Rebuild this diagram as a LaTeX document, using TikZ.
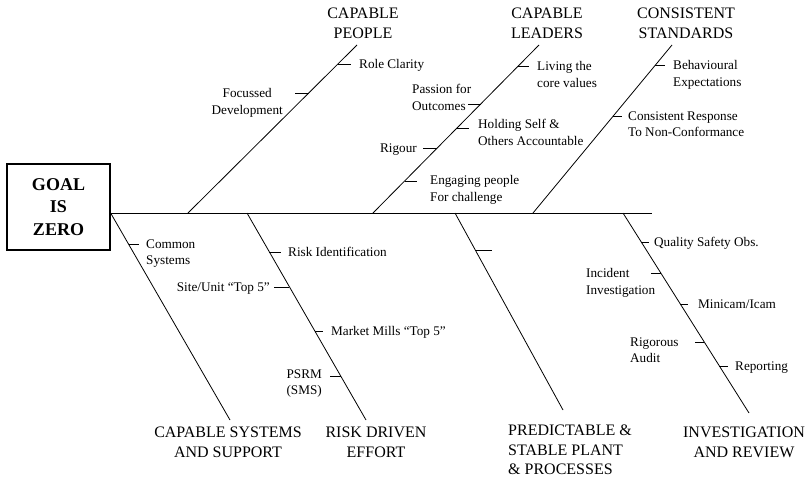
\documentclass[tikz,border=0pt]{standalone}
\usepackage{fontspec}
\setmainfont{Liberation Serif}
\usetikzlibrary{calc}
\begin{document}
\begin{tikzpicture}[x=1pt,y=-1pt,
  bone/.style={line width=0.8pt},
  tickln/.style={line width=0.8pt},
  lbl/.style={inner sep=0pt, align=left, font=\fontsize{13.2}{16.5}\selectfont},
  lblc/.style={inner sep=0pt, align=center, font=\fontsize{13.2}{16.5}\selectfont},
  ttl/.style={inner sep=0pt, align=center, font=\fontsize{16}{20}\selectfont},
  ttll/.style={inner sep=0pt, align=left, font=\fontsize{16}{19.2}\selectfont},
  goalbox/.style={draw, line width=1.2pt, minimum width=103pt, minimum height=86pt,
    inner sep=0pt, align=center, font=\fontsize{18}{22.5}\selectfont\bfseries}]
\useasboundingbox (0,0) rectangle (807,477);

% head
\node[goalbox] (goal) at (58.5,207) {GOAL\\IS\\ZERO};
\coordinate (spR) at (652,213);
\draw[bone] (goal.east |- spR) coordinate (spL) -- (spR);

% bones
\coordinate (b1s) at (188,213); \coordinate (b1e) at (357,45);
\coordinate (b2s) at (373,213); \coordinate (b2e) at (539,45);
\coordinate (b3s) at (533,213); \coordinate (b3e) at (672,45);
\coordinate (b4e) at (230,420);
\coordinate (b5s) at (247,213); \coordinate (b5e) at (366,420);
\coordinate (b6s) at (455,213); \coordinate (b6e) at (563,410);
\coordinate (b7s) at (623,213); \coordinate (b7e) at (749,413);
\draw[bone] (b1s) -- (b1e);
\draw[bone] (b2s) -- (b2e);
\draw[bone] (b3s) -- (b3e);
\draw[bone] (spL) -- (b4e);
\draw[bone] (b5s) -- (b5e);
\draw[bone] (b6s) -- (b6e);
\draw[bone] (b7s) -- (b7e);

% titles
\node[ttl, anchor=north] (tPeople) at (363,7.7) {CAPABLE\\PEOPLE};
\node[ttl, anchor=north] (tLeaders) at (547,7.7) {CAPABLE\\LEADERS};
\node[ttl, anchor=north] (tStandards) at (686,7.7) {CONSISTENT\\STANDARDS};
\node[ttl, anchor=north] (tSystems) at (228,426.7) {CAPABLE SYSTEMS\\AND SUPPORT};
\node[ttl, anchor=north] (tRisk) at (376,426.7) {RISK DRIVEN\\EFFORT};
\node[ttll, anchor=north west] (tPlant) at (508,425) {PREDICTABLE \&\\STABLE PLANT\\\& PROCESSES};
\node[ttl, anchor=north] (tInvest) at (744,426.7) {INVESTIGATION\\AND REVIEW};

% bone 1 ticks
\coordinate (c11) at ($(b1s)!0.887!(b1e)$);
\draw[tickln] (c11) -- ++(13,0);
\node[lbl, anchor=north west] (l11) at (359,59.5) {Role Clarity};
\coordinate (c12) at ($(b1s)!0.714!(b1e)$);
\draw[tickln] (c12) -- ++(-14,0);
\node[lblc, anchor=north east] (l12) at (283,88.5) {Focussed\\Development};

% bone 2 ticks
\coordinate (c21) at ($(b2s)!0.875!(b2e)$);
\draw[tickln] (c21) -- ++(11,0);
\node[lbl, anchor=north west] (l21) at (537,61.5) {Living the\\core values};
\coordinate (c22) at ($(b2s)!0.649!(b2e)$);
\draw[tickln] (c22) -- ++(-13,0);
\node[lbl, anchor=north west] (l22) at (412,84.5) {Passion for\\Outcomes};
\coordinate (c23) at ($(b2s)!0.506!(b2e)$);
\draw[tickln] (c23) -- ++(12,0);
\node[lbl, anchor=north west] (l23) at (478,119.5) {Holding Self \&\\Others Accountable};
\coordinate (c24) at ($(b2s)!0.387!(b2e)$);
\draw[tickln] (c24) -- ++(-14,0);
\node[lbl, anchor=north east] (l24) at (417,143.5) {Rigour};
\coordinate (c25) at ($(b2s)!0.19!(b2e)$);
\draw[tickln] (c25) -- ++(12,0);
\node[lbl, anchor=north west] (l25) at (430,175.5) {Engaging people\\For challenge};

% bone 3 ticks
\coordinate (c31) at ($(b3s)!0.881!(b3e)$);
\draw[tickln] (c31) -- ++(10,0);
\node[lbl, anchor=north west] (l31) at (673,60.5) {Behavioural\\Expectations};
\coordinate (c32) at ($(b3s)!0.577!(b3e)$);
\draw[tickln] (c32) -- ++(9,0);
\node[lbl, anchor=north west] (l32) at (628,111.5) {Consistent Response\\To Non-Conformance};

% bone 4 ticks
\coordinate (c41) at ($(spL)!0.15!(b4e)$);
\draw[tickln] (c41) -- ++(10,0);
\node[lbl, anchor=north west] (l41) at (146,239.5) {Common\\Systems};

% bone 5 ticks
\coordinate (c51) at ($(b5s)!0.188!(b5e)$);
\draw[tickln] (c51) -- ++(12,0);
\node[lbl, anchor=north west] (l51) at (288,247.5) {Risk Identification};
\coordinate (c52) at ($(b5s)!0.357!(b5e)$);
\draw[tickln] (c52) -- ++(-15,0);
\node[lbl, anchor=north east] (l52) at (270,282.5) {Site/Unit “Top 5”};
\coordinate (c53) at ($(b5s)!0.57!(b5e)$);
\draw[tickln] (c53) -- ++(8,0);
\node[lbl, anchor=north west] (l53) at (331,326.5) {Market Mills “Top 5”};
\coordinate (c54) at ($(b5s)!0.787!(b5e)$);
\draw[tickln] (c54) -- ++(-11,0);
\node[lblc, anchor=north east] (l54) at (322,369.5) {PSRM\\(SMS)};

% bone 6 tick
\coordinate (c61) at ($(b6s)!0.188!(b6e)$);
\draw[tickln] (c61) -- ++(17,0);

% bone 7 ticks
\coordinate (c71) at ($(b7s)!0.145!(b7e)$);
\draw[tickln] (c71) -- ++(8,0);
\node[lbl, anchor=north west] (l71) at (654,237.5) {Quality Safety Obs.};
\coordinate (c72) at ($(b7s)!0.30!(b7e)$);
\draw[tickln] (c72) -- ++(-10,0);
\node[lbl, anchor=north west] (l72) at (586,268.5) {Incident\\Investigation};
\coordinate (c73) at ($(b7s)!0.455!(b7e)$);
\draw[tickln] (c73) -- ++(8,0);
\node[lbl, anchor=north west] (l73) at (698,299.5) {Minicam/Icam};
\coordinate (c74) at ($(b7s)!0.645!(b7e)$);
\draw[tickln] (c74) -- ++(-9,0);
\node[lbl, anchor=north west] (l74) at (630,337.5) {Rigorous\\Audit};
\coordinate (c75) at ($(b7s)!0.765!(b7e)$);
\draw[tickln] (c75) -- ++(9,0);
\node[lbl, anchor=north west] (l75) at (735,361.5) {Reporting};
\end{tikzpicture}
\end{document}
